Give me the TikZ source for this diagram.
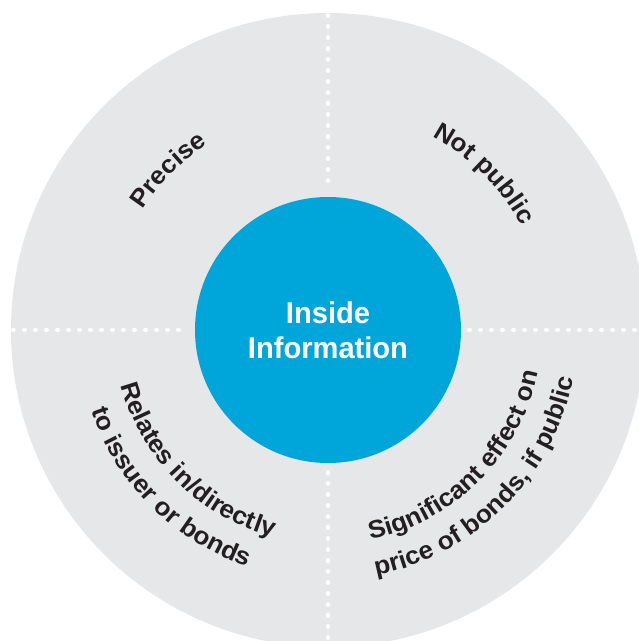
\documentclass[tikz,border=0pt]{standalone}
\usepackage{fontspec}
\setmainfont{Liberation Sans}
\newfontfamily\corefont[FakeStretch=0.97]{Liberation Sans}
\newfontfamily\labelfam[FakeStretch=1.05]{Liberation Sans}
\usetikzlibrary{decorations.text}
\definecolor{ringgray}{HTML}{E6E7E8}
\definecolor{coreblue}{HTML}{00A6DA}
\definecolor{labelink}{HTML}{231F20}
\newcommand\arclabelfont{\labelfam\fontsize{25}{30}\selectfont\bfseries}
\begin{document}
\begin{tikzpicture}[x=1pt,y=1pt,
  dotline/.style={draw=white, line width=4pt, line cap=round, dash pattern=on 1pt off 10pt},
  arclabel/.style={decorate, decoration={text along path, text align=center, text color=labelink, text={|\arclabelfont|#1}}}]
\useasboundingbox (-328,-311) rectangle (311,330);
\clip (-328,-311) rectangle (311,330);
\node[circle, fill=ringgray, minimum size=634pt, inner sep=0pt] (ring) at (0,0) {};
% dotted dividers
\coordinate (ntop) at (0,315);
\coordinate (nin) at (0,141);
\coordinate (sbot) at (0,-311);
\coordinate (sin) at (0,-142);
\coordinate (wout) at (-315,0);
\coordinate (win) at (-143,0);
\coordinate (eout) at (311,0);
\coordinate (ein) at (141,0);
\draw[dotline] (ntop) -- (nin);
\draw[dotline] (sin) -- (sbot);
\draw[dotline] (wout) -- (win);
\draw[dotline] (ein) -- (eout);
% core
\node[circle, fill=coreblue, minimum size=266pt, inner sep=0pt, text=white, align=center,
  font=\corefont\fontsize{30}{35}\selectfont\bfseries] (core) at (0,0) {Inside\\Information};
% labels
\path[arclabel=Precise] (180:221) arc[start angle=180, end angle=90, radius=221];
\path[arclabel=Not public] (90:220) arc[start angle=90, end angle=0, radius=220];
\path[arclabel=Relates in/directly] (180:214) arc[start angle=180, end angle=270, radius=214];
\path[arclabel=to issuer or bonds] (180:250) arc[start angle=180, end angle=270, radius=250];
\path[arclabel=Significant effect on] (270:214) arc[start angle=270, end angle=360, radius=214];
\path[arclabel={price of bonds, if public}] (270:250) arc[start angle=270, end angle=360, radius=250];
\end{tikzpicture}
\end{document}
